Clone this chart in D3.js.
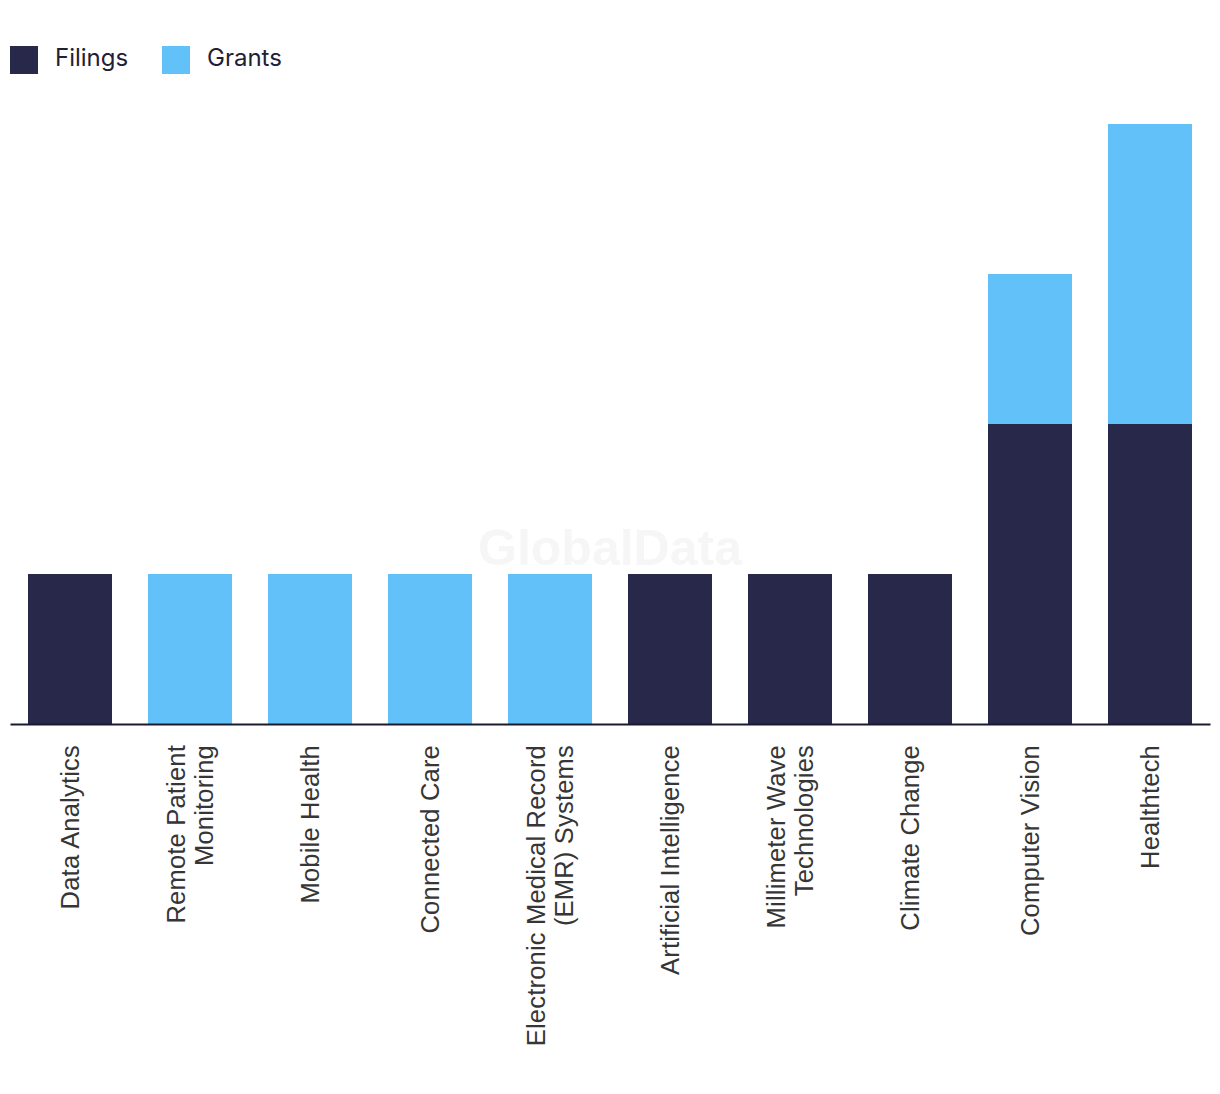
<!DOCTYPE html>
<html>
<head>
<meta charset="utf-8">
<script src="https://cdn.jsdelivr.net/npm/d3@7/dist/d3.min.js"></script>
<style>
  html, body { margin: 0; padding: 0; background: #ffffff; }
  svg { display: block; }
</style>
</head>
<body>
<svg id="chart" width="1220" height="1094"></svg>
<script>
// ---- data ----
const categories = [
  "Data Analytics",
  "Remote Patient Monitoring",
  "Mobile Health",
  "Connected Care",
  "Electronic Medical Record (EMR) Systems",
  "Artificial Intelligence",
  "Millimeter Wave Technologies",
  "Climate Change",
  "Computer Vision",
  "Healthtech"
];
const tickLabels = [
  ["Data Analytics"],
  ["Remote Patient", "Monitoring"],
  ["Mobile Health"],
  ["Connected Care"],
  ["Electronic Medical Record", "(EMR) Systems"],
  ["Artificial Intelligence"],
  ["Millimeter Wave", "Technologies"],
  ["Climate Change"],
  ["Computer Vision"],
  ["Healthtech"]
];
const filings = [1, 0, 0, 0, 0, 1, 1, 1, 2, 2];
const grants  = [0, 1, 1, 1, 1, 0, 0, 0, 1, 2];
const seriesNames = ["Filings", "Grants"];
const seriesColors = ["#27284a", "#62c1f9"];

// ---- layout ----
const svg = d3.select("#chart");
const x = d3.scaleBand()
  .domain(categories)
  .range([10, 1210])
  .paddingInner(0.3)
  .paddingOuter(0.15);
const y = d3.scaleLinear().domain([0, 4]).range([724, 124]);

// watermark
svg.append("text")
  .attr("x", 610).attr("y", 565)
  .attr("text-anchor", "middle")
  .attr("font-family", "Liberation Sans, Arial, sans-serif")
  .attr("font-weight", "bold")
  .attr("font-size", 50)
  .attr("fill", "#f6f6f6")
  .text("GlobalData");

// stacked data
const table = categories.map((c, i) => ({ category: c, Filings: filings[i], Grants: grants[i] }));
const stacked = d3.stack().keys(seriesNames)(table);

svg.append("g").selectAll("g")
  .data(stacked)
  .join("g")
  .attr("fill", (d, i) => seriesColors[i])
  .selectAll("rect")
  .data(d => d.filter(p => p[1] - p[0] > 0))
  .join("rect")
  .attr("x", d => x(d.data.category))
  .attr("width", x.bandwidth())
  .attr("y", d => y(d[1]))
  .attr("height", d => y(d[0]) - y(d[1]));

// x axis line
const xAxis = d3.axisBottom(x).tickSize(0).tickFormat("");
const axG = svg.append("g").attr("transform", `translate(0,${y(0)})`).call(xAxis);
axG.select(".domain").attr("stroke", "#1a1a2e").attr("stroke-width", 2);

// tick labels
const lineH = 28;
const lbl = svg.append("g")
  .selectAll("text")
  .data(categories)
  .join("text")
  .attr("transform", d => `translate(${x(d) + x.bandwidth() / 2},745) rotate(-90)`)
  .attr("text-anchor", "end")
  .attr("font-family", "Liberation Sans, Arial, sans-serif")
  .attr("font-size", 25.5)
  .attr("letter-spacing", 0.2)
  .attr("fill", "#363636");
lbl.each(function (d, i) {
  const lines = tickLabels[i];
  const n = lines.length;
  d3.select(this).selectAll("tspan")
    .data(lines)
    .join("tspan")
    .attr("x", 0)
    .attr("y", (l, j) => 9 + (j - (n - 1) / 2) * lineH)
    .text(l => l);
});

// legend
const legend = svg.append("g");
const legendX = [10, 162];
seriesNames.forEach((s, i) => {
  legend.append("rect")
    .attr("x", legendX[i]).attr("y", 46)
    .attr("width", 28).attr("height", 28)
    .attr("fill", seriesColors[i]);
  legend.append("text")
    .attr("x", legendX[i] + 45).attr("y", 66)
    .attr("font-family", "Inter, Roboto, sans-serif")
    .attr("font-size", 24)
    .attr("fill", "#1f2033")
    .text(s);
});
</script>
</body>
</html>
